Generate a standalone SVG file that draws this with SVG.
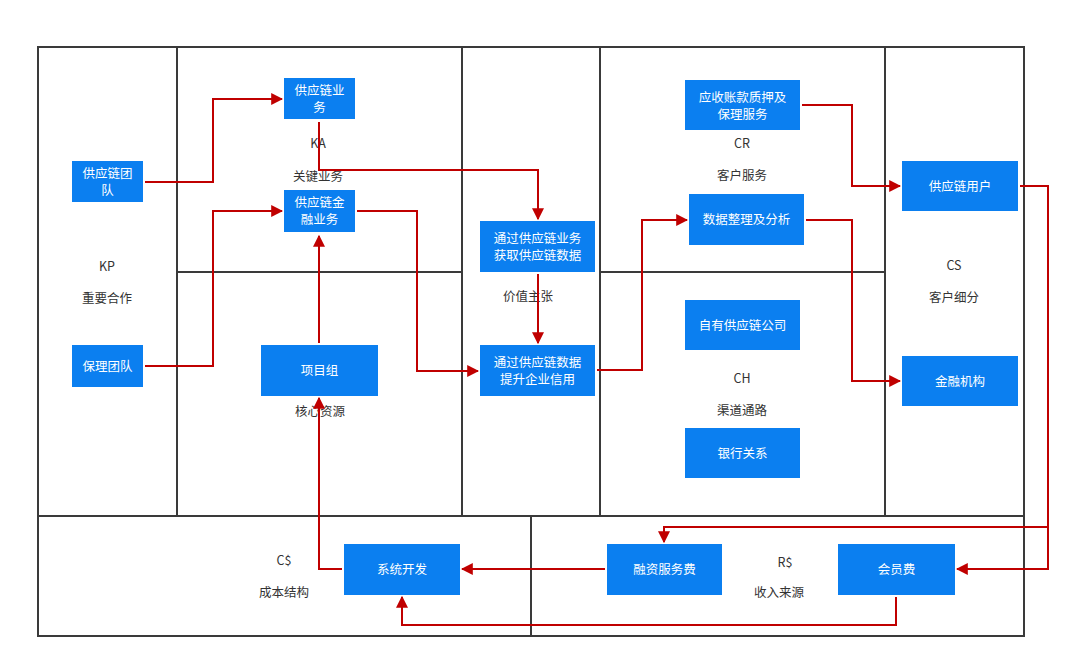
<svg xmlns="http://www.w3.org/2000/svg" width="1080" height="657" viewBox="0 0 1080 657">
<defs>
<marker id="ah" viewBox="0 0 10 10" refX="9" refY="5" markerWidth="12" markerHeight="12" markerUnits="userSpaceOnUse" orient="auto">
<path d="M0,0 L10,5 L0,10 z" fill="#c00000"/>
</marker>
<style>
.frame{fill:none;stroke:#3a3a3a;stroke-width:2}
.box{fill:#0b7ff0}
.bt{fill:#ffffff;font-family:"Noto Sans CJK SC","Liberation Sans",sans-serif;font-size:12.5px;text-anchor:middle}
.lb{fill:#333333;font-family:"Noto Sans CJK SC","Liberation Sans",sans-serif;font-size:12.5px;text-anchor:middle}
.cn{fill:none;stroke:#c00000;stroke-width:2;marker-end:url(#ah)}
.cl{fill:none;stroke:#c00000;stroke-width:2}
</style>
</defs>
<rect width="1080" height="657" fill="#ffffff"/>
<g id="frame">
<rect class="frame" x="38" y="47" width="986" height="589"/>
<path class="frame" d="M177,47V516M462,47V516M600,47V516M885,47V516M38,516H1024M177,272H462M600,272H885M531,516V636"/>
</g>
<g id="labels">
<text class="lb" x="107" y="271">KP</text>
<text class="lb" x="107" y="303">重要合作</text>
<text class="lb" x="318" y="148">KA</text>
<text class="lb" x="318" y="181">关键业务</text>
<text class="lb" x="320" y="416">核心资源</text>
<text class="lb" x="528" y="301">价值主张</text>
<text class="lb" x="742" y="148">CR</text>
<text class="lb" x="742" y="180">客户服务</text>
<text class="lb" x="742" y="383">CH</text>
<text class="lb" x="742" y="415">渠道通路</text>
<text class="lb" x="954" y="270">CS</text>
<text class="lb" x="954" y="302">客户细分</text>
<text class="lb" x="284" y="565">C$</text>
<text class="lb" x="284" y="597">成本结构</text>
<text class="lb" x="785" y="567">R$</text>
<text class="lb" x="779" y="597">收入来源</text>
</g>
<g id="connectors">
<path class="cn" d="M145,182H213V99H282"/>
<path class="cn" d="M145,366H213V211H282"/>
<path class="cn" d="M319,122V170H538V219"/>
<path class="cn" d="M357,211H417V371H478"/>
<path class="cn" d="M319,343V236"/>
<path class="cn" d="M538,274V343"/>
<path class="cn" d="M597,370H642V220H687"/>
<path class="cn" d="M802,105H852V186H900"/>
<path class="cn" d="M806,220H852V381H900"/>
<path class="cn" d="M1020,186H1048V569H957"/>
<path class="cn" d="M1048,527H664V542"/>
<path class="cn" d="M605,569H462"/>
<path class="cn" d="M342,569H319V398"/>
<path class="cn" d="M896,597V625H402V597"/>
</g>
<g id="n1"><rect class="box" x="72" y="161" width="71" height="41"/><text class="bt" x="107.5" y="178">供应链团</text><text class="bt" x="107.5" y="195">队</text></g>
<g id="n2"><rect class="box" x="72" y="345" width="71" height="42"/><text class="bt" x="107.5" y="370.5">保理团队</text></g>
<g id="n3"><rect class="box" x="284" y="78" width="71" height="41"/><text class="bt" x="319.5" y="95">供应链业</text><text class="bt" x="319.5" y="112">务</text></g>
<g id="n4"><rect class="box" x="284" y="190" width="71" height="42"/><text class="bt" x="319.5" y="207">供应链金</text><text class="bt" x="319.5" y="224">融业务</text></g>
<g id="n5"><rect class="box" x="261" y="345" width="117" height="51"/><text class="bt" x="319.5" y="375">项目组</text></g>
<g id="n6"><rect class="box" x="480" y="221" width="115" height="51"/><text class="bt" x="537.5" y="243">通过供应链业务</text><text class="bt" x="537.5" y="260">获取供应链数据</text></g>
<g id="n7"><rect class="box" x="480" y="345" width="115" height="51"/><text class="bt" x="537.5" y="367">通过供应链数据</text><text class="bt" x="537.5" y="384">提升企业信用</text></g>
<g id="n8"><rect class="box" x="685" y="80" width="115" height="50"/><text class="bt" x="742.5" y="102">应收账款质押及</text><text class="bt" x="742.5" y="119">保理服务</text></g>
<g id="n9"><rect class="box" x="689" y="194" width="115" height="51"/><text class="bt" x="746.5" y="224">数据整理及分析</text></g>
<g id="n10"><rect class="box" x="685" y="300" width="115" height="50"/><text class="bt" x="742.5" y="329.5">自有供应链公司</text></g>
<g id="n11"><rect class="box" x="685" y="428" width="115" height="50"/><text class="bt" x="742.5" y="457.5">银行关系</text></g>
<g id="n12"><rect class="box" x="902" y="161" width="116" height="50"/><text class="bt" x="960" y="190.5">供应链用户</text></g>
<g id="n13"><rect class="box" x="902" y="356" width="116" height="50"/><text class="bt" x="960" y="385.5">金融机构</text></g>
<g id="n14"><rect class="box" x="344" y="544" width="116" height="51"/><text class="bt" x="402" y="573.5">系统开发</text></g>
<g id="n15"><rect class="box" x="607" y="544" width="115" height="51"/><text class="bt" x="664.5" y="573.5">融资服务费</text></g>
<g id="n16"><rect class="box" x="838" y="544" width="117" height="51"/><text class="bt" x="896.5" y="573.5">会员费</text></g>
</svg>
